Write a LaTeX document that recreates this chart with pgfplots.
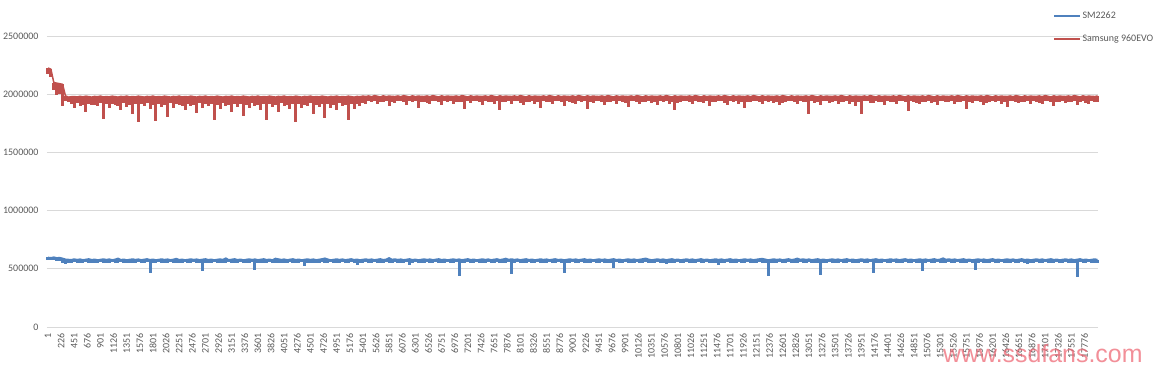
\documentclass[border=0pt]{standalone}
\usepackage{pgfplots}
\pgfplotsset{compat=1.18}
\usepackage{pgfplotstable}
\usepackage{fontspec}
\setmainfont{Carlito}
\newfontfamily\wmfont{Liberation Sans}
\definecolor{sblue}{RGB}{79,129,189}
\definecolor{sred}{RGB}{192,80,77}
\definecolor{gridc}{RGB}{217,217,217}
\definecolor{labc}{RGB}{89,89,89}
\definecolor{wmc}{RGB}{238,105,118}

% Samsung 960EVO: per 50-point bucket, top and bottom of the trace
\pgfplotstableread[row sep=\\]{
top bot\\
2225000 2170000\\ 2215000 2150000\\ 2100000 2040000\\ 2095000 1990000\\ 2090000 2000000\\
2085000 1900000\\ 1985000 1940000\\ 1975000 1930000\\ 1978000 1915000\\ 1980000 1880000\\
1976000 1925000\\ 1982000 1900000\\ 1977000 1910000\\ 1983000 1850000\\ 1979000 1920000\\
1975000 1910000\\ 1981000 1905000\\ 1978000 1895000\\ 1984000 1925000\\ 1976000 1784000\\
1980000 1915000\\ 1977000 1880000\\ 1983000 1920000\\ 1979000 1905000\\ 1975000 1900000\\
1981000 1860000\\ 1978000 1925000\\ 1984000 1890000\\ 1976000 1910000\\ 1980000 1830000\\
1977000 1920000\\ 1983000 1764000\\ 1979000 1915000\\ 1975000 1900000\\ 1981000 1925000\\
1978000 1870000\\ 1984000 1910000\\ 1976000 1770000\\ 1980000 1920000\\ 1977000 1890000\\
1983000 1905000\\ 1979000 1800000\\ 1975000 1925000\\ 1981000 1880000\\ 1978000 1915000\\
1984000 1905000\\ 1976000 1900000\\ 1980000 1860000\\ 1977000 1920000\\ 1983000 1895000\\
1979000 1910000\\ 1975000 1840000\\ 1981000 1925000\\ 1978000 1885000\\ 1984000 1915000\\
1976000 1900000\\ 1980000 1920000\\ 1977000 1780000\\ 1983000 1905000\\ 1979000 1870000\\
1975000 1925000\\ 1981000 1895000\\ 1978000 1910000\\ 1984000 1850000\\ 1976000 1920000\\
1980000 1890000\\ 1977000 1915000\\ 1983000 1810000\\ 1979000 1905000\\ 1975000 1880000\\
1981000 1925000\\ 1978000 1900000\\ 1984000 1910000\\ 1976000 1860000\\ 1980000 1920000\\
1977000 1775000\\ 1983000 1915000\\ 1979000 1890000\\ 1975000 1905000\\ 1981000 1845000\\
1978000 1925000\\ 1984000 1895000\\ 1976000 1910000\\ 1980000 1870000\\ 1977000 1920000\\
1983000 1758000\\ 1979000 1915000\\ 1975000 1885000\\ 1981000 1905000\\ 1978000 1900000\\
1984000 1925000\\ 1976000 1830000\\ 1980000 1910000\\ 1977000 1890000\\ 1983000 1920000\\
1979000 1793000\\ 1975000 1915000\\ 1981000 1880000\\ 1978000 1905000\\ 1984000 1860000\\
1976000 1925000\\ 1980000 1895000\\ 1977000 1910000\\ 1983000 1778000\\ 1979000 1920000\\
1975000 1870000\\ 1981000 1915000\\ 1978000 1900000\\ 1984000 1925000\\ 1980000 1920000\\
1985000 1938000\\ 1978000 1930000\\ 1988000 1942000\\ 1982000 1915000\\ 1976000 1935000\\
1986000 1935000\\ 1979000 1945000\\ 1984000 1900000\\ 1981000 1932000\\ 1980000 1925000\\
1985000 1940000\\ 1978000 1940000\\ 1988000 1930000\\ 1982000 1910000\\ 1976000 1938000\\
1986000 1930000\\ 1979000 1942000\\ 1984000 1880000\\ 1981000 1935000\\ 1980000 1935000\\
1985000 1925000\\ 1978000 1920000\\ 1988000 1945000\\ 1982000 1940000\\ 1976000 1932000\\
1986000 1905000\\ 1979000 1938000\\ 1984000 1930000\\ 1981000 1940000\\ 1980000 1915000\\
1985000 1935000\\ 1978000 1935000\\ 1988000 1930000\\ 1982000 1870000\\ 1976000 1942000\\
1986000 1925000\\ 1979000 1938000\\ 1984000 1940000\\ 1981000 1932000\\ 1980000 1910000\\
1985000 1945000\\ 1978000 1930000\\ 1988000 1935000\\ 1982000 1920000\\ 1976000 1940000\\
1986000 1860000\\ 1979000 1930000\\ 1984000 1935000\\ 1981000 1938000\\ 1980000 1915000\\
1985000 1942000\\ 1978000 1940000\\ 1988000 1925000\\ 1982000 1905000\\ 1976000 1935000\\
1986000 1930000\\ 1979000 1945000\\ 1984000 1920000\\ 1981000 1932000\\ 1980000 1880000\\
1985000 1938000\\ 1978000 1935000\\ 1988000 1930000\\ 1982000 1915000\\ 1976000 1942000\\
1986000 1940000\\ 1979000 1935000\\ 1984000 1900000\\ 1981000 1940000\\ 1980000 1930000\\
1985000 1925000\\ 1978000 1920000\\ 1988000 1938000\\ 1982000 1935000\\ 1976000 1945000\\
1986000 1875000\\ 1979000 1932000\\ 1984000 1925000\\ 1981000 1940000\\ 1980000 1940000\\
1985000 1930000\\ 1978000 1910000\\ 1988000 1935000\\ 1982000 1930000\\ 1976000 1942000\\
1986000 1920000\\ 1979000 1938000\\ 1984000 1935000\\ 1981000 1925000\\ 1980000 1890000\\
1985000 1945000\\ 1978000 1940000\\ 1988000 1932000\\ 1982000 1915000\\ 1976000 1935000\\
1986000 1930000\\ 1979000 1940000\\ 1984000 1925000\\ 1981000 1930000\\ 1980000 1905000\\
1985000 1938000\\ 1978000 1935000\\ 1988000 1942000\\ 1982000 1920000\\ 1976000 1935000\\
1986000 1865000\\ 1979000 1925000\\ 1984000 1930000\\ 1981000 1945000\\ 1980000 1940000\\
1985000 1932000\\ 1978000 1915000\\ 1988000 1938000\\ 1982000 1935000\\ 1976000 1930000\\
1986000 1925000\\ 1979000 1942000\\ 1984000 1900000\\ 1981000 1935000\\ 1980000 1930000\\
1985000 1940000\\ 1978000 1940000\\ 1988000 1925000\\ 1982000 1910000\\ 1976000 1938000\\
1986000 1935000\\ 1979000 1945000\\ 1984000 1920000\\ 1981000 1932000\\ 1980000 1880000\\
1985000 1935000\\ 1978000 1930000\\ 1988000 1940000\\ 1982000 1940000\\ 1976000 1930000\\
1986000 1915000\\ 1979000 1938000\\ 1984000 1935000\\ 1981000 1942000\\ 1980000 1925000\\
1985000 1935000\\ 1978000 1905000\\ 1988000 1925000\\ 1982000 1930000\\ 1976000 1945000\\
1986000 1940000\\ 1979000 1932000\\ 1984000 1920000\\ 1981000 1938000\\ 1980000 1935000\\
1985000 1930000\\ 1978000 1830000\\ 1988000 1940000\\ 1982000 1925000\\ 1976000 1935000\\
1986000 1910000\\ 1979000 1942000\\ 1984000 1940000\\ 1981000 1925000\\ 1980000 1930000\\
1985000 1938000\\ 1978000 1915000\\ 1988000 1935000\\ 1982000 1935000\\ 1976000 1945000\\
1986000 1920000\\ 1979000 1930000\\ 1984000 1900000\\ 1981000 1932000\\ 1980000 1830000\\
1985000 1940000\\ 1978000 1940000\\ 1988000 1925000\\ 1982000 1925000\\ 1976000 1938000\\
1986000 1930000\\ 1979000 1935000\\ 1984000 1910000\\ 1981000 1942000\\ 1980000 1935000\\
1985000 1930000\\ 1978000 1920000\\ 1988000 1945000\\ 1982000 1940000\\ 1976000 1932000\\
1986000 1855000\\ 1979000 1938000\\ 1984000 1930000\\ 1981000 1925000\\ 1980000 1915000\\
1985000 1935000\\ 1978000 1935000\\ 1988000 1940000\\ 1982000 1925000\\ 1976000 1930000\\
1986000 1905000\\ 1979000 1942000\\ 1984000 1940000\\ 1981000 1935000\\ 1980000 1930000\\
1985000 1938000\\ 1978000 1920000\\ 1988000 1932000\\ 1982000 1935000\\ 1976000 1945000\\
1986000 1875000\\ 1979000 1930000\\ 1984000 1925000\\ 1981000 1940000\\ 1980000 1940000\\
1985000 1935000\\ 1978000 1910000\\ 1988000 1925000\\ 1982000 1930000\\ 1976000 1938000\\
1986000 1935000\\ 1979000 1942000\\ 1984000 1920000\\ 1981000 1930000\\ 1980000 1890000\\
1985000 1945000\\ 1978000 1940000\\ 1988000 1932000\\ 1982000 1925000\\ 1976000 1935000\\
1986000 1930000\\ 1979000 1940000\\ 1984000 1915000\\ 1981000 1938000\\ 1980000 1935000\\
1985000 1925000\\ 1978000 1920000\\ 1988000 1942000\\ 1982000 1940000\\ 1976000 1930000\\
1986000 1900000\\ 1979000 1935000\\ 1984000 1930000\\ 1981000 1945000\\ 1980000 1925000\\
1985000 1932000\\ 1978000 1935000\\ 1988000 1938000\\ 1982000 1910000\\ 1976000 1930000\\
1986000 1940000\\ 1979000 1925000\\ 1984000 1920000\\ 1981000 1940000\\ 1980000 1930000\\
1985000 1935000\\
}\redtable

% SM2262: per 50-point bucket, top and bottom of the trace
\pgfplotstableread[row sep=\\]{
top bot\\
598000 575000\\ 595000 572000\\ 600000 578000\\ 594000 570000\\ 596000 565000\\
590000 548000\\ 582000 545000\\ 580000 552000\\ 578000 549000\\ 584000 555000\\
579000 551000\\ 583000 553000\\ 577000 548000\\ 581000 556000\\ 585000 550000\\
578000 554000\\ 582000 547000\\ 576000 552000\\ 580000 555000\\ 584000 549000\\
579000 553000\\ 583000 550000\\ 577000 556000\\ 581000 548000\\ 590000 552000\\
578000 555000\\ 582000 549000\\ 576000 553000\\ 580000 547000\\ 584000 554000\\
579000 550000\\ 583000 556000\\ 577000 548000\\ 581000 552000\\ 585000 555000\\
578000 464000\\ 582000 553000\\ 576000 549000\\ 580000 556000\\ 584000 550000\\
579000 552000\\ 583000 548000\\ 577000 555000\\ 581000 551000\\ 588000 554000\\
578000 547000\\ 582000 553000\\ 576000 556000\\ 580000 549000\\ 584000 552000\\
579000 555000\\ 583000 550000\\ 577000 553000\\ 581000 481000\\ 585000 548000\\
578000 554000\\ 582000 551000\\ 576000 556000\\ 580000 549000\\ 584000 553000\\
579000 547000\\ 592000 552000\\ 577000 555000\\ 581000 550000\\ 585000 554000\\
578000 548000\\ 582000 556000\\ 576000 551000\\ 580000 553000\\ 584000 549000\\
579000 555000\\ 583000 490000\\ 577000 552000\\ 581000 548000\\ 585000 554000\\
578000 550000\\ 582000 556000\\ 576000 549000\\ 589000 553000\\ 584000 551000\\
579000 554000\\ 583000 548000\\ 577000 552000\\ 581000 555000\\ 585000 550000\\
578000 553000\\ 582000 549000\\ 576000 556000\\ 580000 525000\\ 584000 551000\\
579000 554000\\ 583000 548000\\ 577000 553000\\ 581000 550000\\ 585000 555000\\
591000 549000\\ 582000 552000\\ 576000 556000\\ 580000 548000\\ 584000 553000\\
579000 550000\\ 583000 555000\\ 577000 549000\\ 581000 552000\\ 585000 556000\\
578000 548000\\ 582000 535000\\ 576000 553000\\ 580000 550000\\ 584000 555000\\
579000 549000\\ 583000 552000\\ 577000 556000\\ 581000 548000\\ 585000 553000\\
578000 550000\\ 582000 555000\\ 594000 549000\\ 580000 552000\\ 584000 556000\\
579000 548000\\ 583000 553000\\ 577000 550000\\ 581000 555000\\ 585000 535000\\
578000 552000\\ 582000 556000\\ 576000 548000\\ 580000 553000\\ 584000 550000\\
579000 555000\\ 583000 549000\\ 577000 552000\\ 581000 556000\\ 585000 548000\\
578000 553000\\ 582000 550000\\ 576000 555000\\ 580000 549000\\ 584000 552000\\
579000 556000\\ 583000 440000\\ 577000 553000\\ 581000 550000\\ 585000 555000\\
578000 549000\\ 582000 552000\\ 576000 556000\\ 580000 548000\\ 584000 553000\\
579000 550000\\ 583000 555000\\ 577000 549000\\ 581000 552000\\ 585000 556000\\
578000 548000\\ 582000 553000\\ 589000 550000\\ 580000 555000\\ 584000 458000\\
579000 552000\\ 583000 556000\\ 577000 548000\\ 581000 553000\\ 585000 550000\\
578000 555000\\ 582000 549000\\ 576000 552000\\ 580000 556000\\ 584000 548000\\
579000 553000\\ 583000 550000\\ 577000 555000\\ 581000 549000\\ 585000 552000\\
578000 556000\\ 582000 548000\\ 576000 466000\\ 580000 553000\\ 584000 550000\\
579000 555000\\ 583000 549000\\ 577000 552000\\ 581000 556000\\ 585000 548000\\
578000 553000\\ 582000 550000\\ 576000 555000\\ 580000 549000\\ 584000 552000\\
579000 556000\\ 583000 548000\\ 577000 553000\\ 581000 550000\\ 585000 507000\\
578000 555000\\ 582000 549000\\ 576000 552000\\ 580000 556000\\ 584000 548000\\
579000 553000\\ 583000 550000\\ 577000 555000\\ 581000 549000\\ 585000 552000\\
590000 556000\\ 582000 548000\\ 576000 553000\\ 580000 550000\\ 584000 555000\\
579000 549000\\ 583000 552000\\ 577000 540000\\ 581000 548000\\ 585000 553000\\
578000 550000\\ 582000 555000\\ 576000 549000\\ 580000 552000\\ 584000 556000\\
579000 548000\\ 583000 553000\\ 577000 550000\\ 581000 555000\\ 585000 549000\\
578000 552000\\ 582000 556000\\ 576000 548000\\ 580000 553000\\ 584000 550000\\
579000 530000\\ 583000 549000\\ 577000 552000\\ 581000 556000\\ 585000 548000\\
578000 553000\\ 582000 550000\\ 576000 555000\\ 580000 549000\\ 584000 552000\\
579000 556000\\ 583000 548000\\ 577000 553000\\ 581000 550000\\ 585000 555000\\
588000 549000\\ 582000 552000\\ 576000 440000\\ 580000 548000\\ 584000 553000\\
579000 550000\\ 583000 555000\\ 577000 549000\\ 581000 552000\\ 585000 556000\\
578000 548000\\ 582000 553000\\ 590000 550000\\ 580000 555000\\ 584000 549000\\
579000 552000\\ 583000 556000\\ 577000 548000\\ 581000 553000\\ 585000 550000\\
578000 450000\\ 582000 549000\\ 576000 552000\\ 580000 556000\\ 584000 548000\\
579000 553000\\ 583000 550000\\ 577000 555000\\ 581000 549000\\ 585000 552000\\
578000 556000\\ 582000 548000\\ 576000 553000\\ 580000 550000\\ 584000 555000\\
579000 549000\\ 583000 552000\\ 577000 556000\\ 581000 466000\\ 585000 548000\\
578000 553000\\ 582000 550000\\ 576000 555000\\ 580000 549000\\ 584000 552000\\
579000 556000\\ 583000 548000\\ 577000 553000\\ 581000 550000\\ 585000 555000\\
578000 549000\\ 582000 552000\\ 576000 556000\\ 580000 548000\\ 584000 553000\\
579000 484000\\ 583000 550000\\ 577000 555000\\ 581000 549000\\ 585000 552000\\
578000 556000\\ 582000 548000\\ 592000 553000\\ 580000 550000\\ 584000 555000\\
579000 549000\\ 583000 552000\\ 577000 556000\\ 581000 548000\\ 585000 553000\\
578000 550000\\ 582000 555000\\ 576000 549000\\ 580000 490000\\ 584000 552000\\
579000 556000\\ 583000 548000\\ 577000 553000\\ 581000 550000\\ 585000 555000\\
578000 549000\\ 582000 552000\\ 576000 556000\\ 580000 548000\\ 584000 553000\\
579000 550000\\ 583000 555000\\ 577000 549000\\ 581000 552000\\ 585000 556000\\
578000 548000\\ 582000 540000\\ 576000 553000\\ 580000 550000\\ 584000 555000\\
579000 549000\\ 583000 552000\\ 577000 556000\\ 581000 548000\\ 585000 553000\\
578000 550000\\ 582000 555000\\ 576000 549000\\ 580000 552000\\ 584000 556000\\
579000 548000\\ 583000 553000\\ 577000 550000\\ 581000 430000\\ 585000 555000\\
578000 549000\\ 582000 552000\\ 576000 556000\\ 580000 548000\\ 584000 553000\\
579000 550000\\
}\bluetable

\begin{document}
\begin{tikzpicture}
\useasboundingbox (-47bp,-45bp) rectangle (1114bp,327bp);
\begin{axis}[
  scale only axis,
  width=1051bp, height=291bp,
  xmin=-16, xmax=18008,
  ymin=0, ymax=2500000,
  axis line style={draw=none},
  ytick={0,500000,...,2500000},
  xtick={1,226,...,17776},
  ymajorgrids, grid style={gridc, line width=0.75bp},
  major tick length=0pt,
  scaled x ticks=false, scaled y ticks=false,
  tick label style={font=\fontsize{10}{12}\selectfont, text=labc},
  /pgf/number format/.cd, fixed, precision=0, 1000 sep={}, assume math mode=true,
  /pgfplots/.cd,
  x tick label style={rotate=90, anchor=east, xshift=-3bp},
  y tick label style={xshift=-5bp},
  legend style={at={(0.957,1.089)}, anchor=north west, draw=none, fill=none,
    font=\fontsize{10}{12}\selectfont, text=labc, row sep=12bp,
    inner sep=0pt, nodes={inner sep=1.5bp}},
  legend cell align=left,
  legend image code/.code={\draw[#1] (0bp,0bp) -- (26bp,0bp);},
  clip=false,
]
\addplot[sblue, line width=1.5bp, line join=round, mark=none, forget plot,
  error bars/.cd, y dir=minus, y explicit, error mark=none,
  error bar style={line width=3bp, color=sblue}]
  table[x expr=\coordindex*50+1, y=top, y error expr=\thisrow{top}-\thisrow{bot}] {\bluetable};
\addplot[sred, line width=1.5bp, line join=round, mark=none, forget plot,
  error bars/.cd, y dir=minus, y explicit, error mark=none,
  error bar style={line width=3bp, color=sred}]
  table[x expr=\coordindex*50+1, y=top, y error expr=\thisrow{top}-\thisrow{bot}] {\redtable};
\addlegendimage{sblue, line width=2bp}
\addlegendentry{SM2262}
\addlegendimage{sred, line width=2bp}
\addlegendentry{Samsung 960EVO}
\end{axis}
\node[anchor=base west, inner sep=0pt, text=wmc, opacity=0.75, font=\wmfont\fontsize{25}{30}\selectfont] at (896bp,-35bp) {www.ssdfans.com};
\end{tikzpicture}
\end{document}
